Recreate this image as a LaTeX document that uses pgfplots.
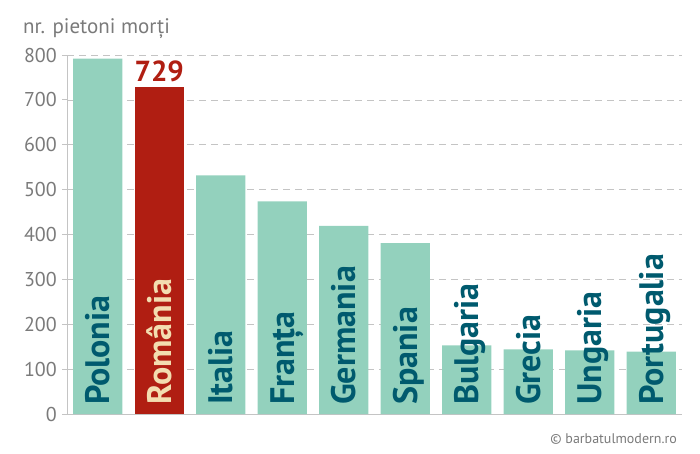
\documentclass[border=0pt]{standalone}
\usepackage{fontspec}
\setmainfont{PT Sans}
\usepackage{pgfplots}
\pgfplotsset{compat=1.18}
\definecolor{mint}{HTML}{93D1BD}
\definecolor{rored}{HTML}{B01E12}
\definecolor{labteal}{HTML}{005A6E}
\definecolor{cream}{HTML}{F3DDB0}
\definecolor{axgray}{HTML}{C4C4C4}
\definecolor{txtgray}{HTML}{7A7A7A}
\begin{document}
\begin{tikzpicture}[x=1pt,y=1pt]
\path (0,0) rectangle (700,453);
\node[anchor=base west, inner sep=0, text=txtgray, font=\fontsize{21}{21}\selectfont] at (23,419.5) {nr. pietoni morți};
\node[anchor=base east, inner sep=0, text=txtgray, font=\fontsize{14}{14}\selectfont] at (677,10) {© barbatulmodern.ro};
\begin{axis}[
  at={(67pt,39pt)}, anchor=south west,
  scale only axis, width=615pt, height=359pt,
  xmin=-0.5, xmax=9.5, ymin=0, ymax=800,
  axis x line*=bottom, axis y line*=left,
  axis line style={axgray, line width=0.8pt},
  xtick=\empty,
  ytick={0,100,...,800},
  ymajorgrids, grid style={axgray, dashed, dash pattern=on 7pt off 5pt, line width=0.7pt},
  tick align=outside, major tick length=5pt,
  tick style={axgray, line width=0.8pt},
  /pgf/number format/assume math mode=true,
  yticklabel style={font=\fontsize{20}{20}\selectfont, text=txtgray, inner sep=0pt, xshift=-5pt},
  clip=false,
]
\addplot[ybar, bar width=0.8, bar shift=0pt, fill=mint, draw=none]
  coordinates {(0,792) (2,532) (3,474) (4,419) (5,381) (6,153) (7,144) (8,142) (9,139)};
\addplot[ybar, bar width=0.8, bar shift=0pt, fill=rored, draw=none]
  coordinates {(1,729)};
\node[anchor=south, inner sep=0, text=rored, font=\bfseries\fontsize{29}{29}\selectfont] at ([yshift=5pt]axis cs:1,729) {729};
\tikzset{barlab/.style={rotate=90, anchor=base west, inner sep=0, text=labteal, font=\bfseries\fontsize{34}{34}\selectfont}}
\node[barlab] at ([xshift=12pt,yshift=9pt]axis cs:0,0) {Polonia};
\node[barlab, text=cream] at ([xshift=12pt,yshift=9pt]axis cs:1,0) {România};
\node[barlab] at ([xshift=12pt,yshift=9pt]axis cs:2,0) {Italia};
\node[barlab] at ([xshift=12pt,yshift=9pt]axis cs:3,0) {Franța};
\node[barlab] at ([xshift=12pt,yshift=9pt]axis cs:4,0) {Germania};
\node[barlab] at ([xshift=12pt,yshift=9pt]axis cs:5,0) {Spania};
\node[barlab] at ([xshift=12pt,yshift=9pt]axis cs:6,0) {Bulgaria};
\node[barlab] at ([xshift=12pt,yshift=9pt]axis cs:7,0) {Grecia};
\node[barlab] at ([xshift=12pt,yshift=9pt]axis cs:8,0) {Ungaria};
\node[barlab] at ([xshift=12pt,yshift=9pt]axis cs:9,0) {Portugalia};
\end{axis}
\end{tikzpicture}
\end{document}
